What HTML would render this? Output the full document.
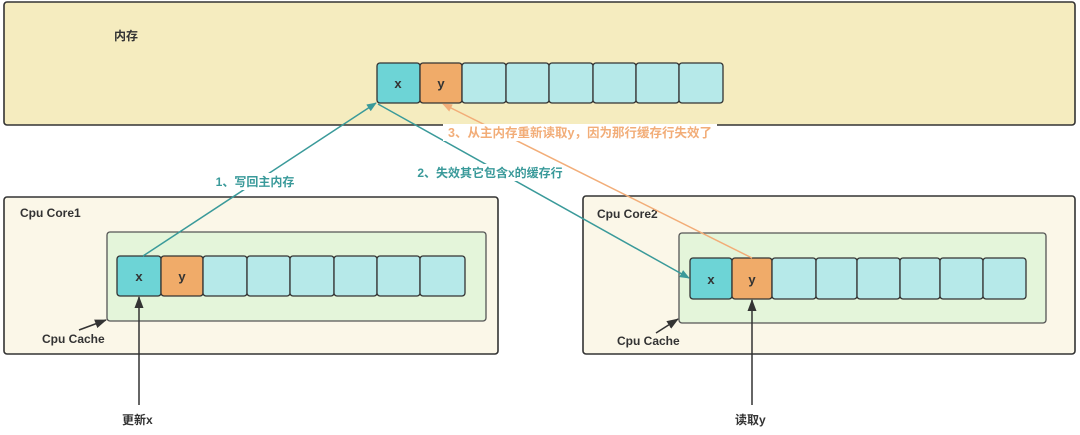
<!DOCTYPE html>
<html><head><meta charset="utf-8"><style>
html,body{margin:0;padding:0;background:#fff;}
svg text{font-family:"Liberation Sans","Noto Sans CJK SC",sans-serif;font-weight:bold;}
</style></head><body>
<svg width="1080" height="430" viewBox="0 0 1080 430" xmlns="http://www.w3.org/2000/svg">
<defs>
<marker id="at" markerWidth="10" markerHeight="8" refX="9" refY="4" orient="auto" markerUnits="userSpaceOnUse"><path d="M0,0 L10,4 L0,8 Z" fill="#3a9a9a"/></marker>
<marker id="ao" markerWidth="10" markerHeight="8" refX="9" refY="4" orient="auto" markerUnits="userSpaceOnUse"><path d="M0,0 L10,4 L0,8 Z" fill="#f2ad78"/></marker>
<marker id="ab" markerWidth="12" markerHeight="9" refX="11" refY="4.5" orient="auto" markerUnits="userSpaceOnUse"><path d="M0,0 L12,4.5 L0,9 Z" fill="#333"/></marker>
</defs>
<!-- memory -->
<rect x="4" y="2" width="1071" height="123" rx="3" fill="#f5ecbf" stroke="#333" stroke-width="1.6"/>
<text x="114" y="40" font-size="12" fill="#333">内存</text>
<g stroke="#333" stroke-width="1.3">
<rect x="377" y="63" width="43" height="40" rx="3" fill="#6dd4d6"/>
<rect x="420" y="63" width="42" height="40" rx="3" fill="#f0ab69"/>
<rect x="462" y="63" width="44" height="40" rx="3" fill="#b6e9e9"/>
<rect x="506" y="63" width="43" height="40" rx="3" fill="#b6e9e9"/>
<rect x="549" y="63" width="44" height="40" rx="3" fill="#b6e9e9"/>
<rect x="593" y="63" width="43" height="40" rx="3" fill="#b6e9e9"/>
<rect x="636" y="63" width="43" height="40" rx="3" fill="#b6e9e9"/>
<rect x="679" y="63" width="44" height="40" rx="3" fill="#b6e9e9"/>
</g>
<text x="398" y="88" font-size="13" fill="#333" text-anchor="middle">x</text>
<text x="441" y="88" font-size="13" fill="#333" text-anchor="middle">y</text>

<!-- core1 -->
<rect x="4" y="197" width="494" height="157" rx="3" fill="#fbf7e8" stroke="#333" stroke-width="1.6"/>
<text x="20" y="217" font-size="12" fill="#333">Cpu Core1</text>
<rect x="107" y="232" width="379" height="89" rx="3" fill="#e4f5da" stroke="#555" stroke-width="1.3"/>
<g stroke="#333" stroke-width="1.3">
<rect x="117" y="256" width="44" height="40" rx="3" fill="#6dd4d6"/>
<rect x="161" y="256" width="42" height="40" rx="3" fill="#f0ab69"/>
<rect x="203" y="256" width="44" height="40" rx="3" fill="#b6e9e9"/>
<rect x="247" y="256" width="43" height="40" rx="3" fill="#b6e9e9"/>
<rect x="290" y="256" width="44" height="40" rx="3" fill="#b6e9e9"/>
<rect x="334" y="256" width="43" height="40" rx="3" fill="#b6e9e9"/>
<rect x="377" y="256" width="43" height="40" rx="3" fill="#b6e9e9"/>
<rect x="420" y="256" width="45" height="40" rx="3" fill="#b6e9e9"/>
</g>
<text x="139" y="281" font-size="13" fill="#333" text-anchor="middle">x</text>
<text x="182" y="281" font-size="13" fill="#333" text-anchor="middle">y</text>
<text x="42" y="343" font-size="12" fill="#333">Cpu Cache</text>
<line x1="79" y1="330" x2="106" y2="320" stroke="#333" stroke-width="1.5" marker-end="url(#ab)"/>
<line x1="139" y1="405" x2="139" y2="297" stroke="#333" stroke-width="1.5" marker-end="url(#ab)"/>
<text x="122" y="424" font-size="12" fill="#333">更新x</text>

<!-- core2 -->
<rect x="583" y="196" width="492" height="158" rx="3" fill="#fbf7e8" stroke="#333" stroke-width="1.6"/>
<text x="597" y="218" font-size="12" fill="#333">Cpu Core2</text>
<rect x="679" y="233" width="367" height="90" rx="3" fill="#e4f5da" stroke="#555" stroke-width="1.3"/>
<g stroke="#333" stroke-width="1.3">
<rect x="690" y="258" width="42" height="41" rx="3" fill="#6dd4d6"/>
<rect x="732" y="258" width="40" height="41" rx="3" fill="#f0ab69"/>
<rect x="772" y="258" width="44" height="41" rx="3" fill="#b6e9e9"/>
<rect x="816" y="258" width="41" height="41" rx="3" fill="#b6e9e9"/>
<rect x="857" y="258" width="43" height="41" rx="3" fill="#b6e9e9"/>
<rect x="900" y="258" width="40" height="41" rx="3" fill="#b6e9e9"/>
<rect x="940" y="258" width="43" height="41" rx="3" fill="#b6e9e9"/>
<rect x="983" y="258" width="43" height="41" rx="3" fill="#b6e9e9"/>
</g>
<text x="711" y="284" font-size="13" fill="#333" text-anchor="middle">x</text>
<text x="752" y="284" font-size="13" fill="#333" text-anchor="middle">y</text>
<text x="617" y="345" font-size="12" fill="#333">Cpu Cache</text>
<line x1="656" y1="333" x2="678" y2="319" stroke="#333" stroke-width="1.5" marker-end="url(#ab)"/>
<line x1="752" y1="405" x2="752" y2="300" stroke="#333" stroke-width="1.5" marker-end="url(#ab)"/>
<text x="735" y="424" font-size="12" fill="#333">读取y</text>

<!-- connectors -->
<line x1="143" y1="256" x2="376" y2="103" stroke="#3a9a9a" stroke-width="1.5" marker-end="url(#at)"/>
<line x1="378" y1="104" x2="689" y2="278" stroke="#3a9a9a" stroke-width="1.5" marker-end="url(#at)"/>
<line x1="752" y1="258" x2="443" y2="104" stroke="#f2ad78" stroke-width="1.5" marker-end="url(#ao)"/>
<rect x="206" y="173" width="98" height="17" fill="#fff"/>
<text x="255" y="186" font-size="12" fill="#3a9a9a" text-anchor="middle">1、写回主内存</text>
<rect x="424" y="164" width="132" height="17" fill="#fff"/>
<text x="490" y="177" font-size="12" fill="#3a9a9a" text-anchor="middle">2、失效其它包含x的缓存行</text>
<rect x="443" y="124" width="274" height="17" fill="#fff"/>
<text x="580" y="137" font-size="12.5" fill="#f2ad78" text-anchor="middle">3、从主内存重新读取y，因为那行缓存行失效了</text>
</svg>
</body></html>
